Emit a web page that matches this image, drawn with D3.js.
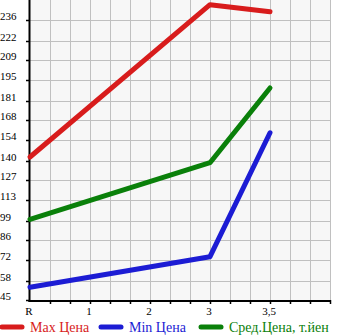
<!DOCTYPE html>
<html>
<head>
<meta charset="utf-8">
<script src="https://cdn.jsdelivr.net/npm/d3@7"></script>
<style>
  body { margin: 0; background: #fff; }
  svg { display: block; }
</style>
</head>
<body>
<div id="chart"></div>
<script>
// categories on the x axis (last slot is empty space)
var categories = ["R", "1", "2", "3", "3,5"]
var yTicks = [45, 58, 72, 86, 99, 113, 127, 140, 154, 168, 181, 195, 209, 222, 236]

// series: index into categories + value
var maxPrice = [[0, 142.7], [3, 246.8], [4, 242]]
var minPrice = [[0, 53.7], [3, 74.6], [4, 159.3]]
var avgPrice = [[0, 100.1], [3, 138.8], [4, 189.9]]

var seriesNames = ["Max Цена", "Min Цена", "Сред.Цена, т.йен"]
var seriesColors = ["#d81c1c", "#1c1cd4", "#0a800a"]

var W = 345, H = 335
var plot = {left: 30, right: 330, top: 0, bottom: 300}

var svg = d3.select("#chart").append("svg")
    .attr("width", W)
    .attr("height", H)

var x = d3.scaleLinear().domain([0, 5]).range([plot.left, plot.right])
var y = d3.scaleLinear().domain([45, 250]).range([plot.bottom, plot.top])

// plot background
svg.append("rect")
  .attr("x", plot.left).attr("y", plot.top)
  .attr("width", plot.right - plot.left)
  .attr("height", plot.bottom - plot.top)
  .attr("fill", "#f7f7f7")

// grid: vertical every third of a category, horizontal at each tick
var vGrid = d3.range(1, 16).map(function(i){ return i / 3 })
svg.append("g").selectAll("line")
  .data(vGrid).enter().append("line")
    .attr("x1", function(d){ return Math.round(x(d)) + 0.5 })
    .attr("x2", function(d){ return Math.round(x(d)) + 0.5 })
    .attr("y1", plot.top).attr("y2", plot.bottom)
    .attr("stroke", "#c0c0c0").attr("stroke-width", 1)
svg.append("g").selectAll("line")
  .data(yTicks.slice(1)).enter().append("line")
    .attr("x1", plot.left).attr("x2", plot.right)
    .attr("y1", function(d){ return Math.round(y(d)) + 0.5 })
    .attr("y2", function(d){ return Math.round(y(d)) + 0.5 })
    .attr("stroke", "#c0c0c0").attr("stroke-width", 1)

// y tick marks + labels (labels left aligned at x=0, sitting on the tick)
svg.append("g").selectAll("line")
  .data(yTicks).enter().append("line")
    .attr("x1", plot.left - 4).attr("x2", plot.left)
    .attr("y1", function(d){ return Math.round(y(d)) + 0.5 })
    .attr("y2", function(d){ return Math.round(y(d)) + 0.5 })
    .attr("stroke", "#000").attr("stroke-width", 1.5)
svg.append("g").selectAll("text")
  .data(yTicks).enter().append("text")
    .attr("x", 0)
    .attr("y", function(d){ return Math.round(y(d)) })
    .attr("font-family", "Liberation Serif, serif")
    .attr("font-size", 11)
    .text(function(d){ return d })

// x tick marks
svg.append("g").selectAll("line")
  .data(vGrid).enter().append("line")
    .attr("x1", function(d){ return Math.round(x(d)) + 0.5 })
    .attr("x2", function(d){ return Math.round(x(d)) + 0.5 })
    .attr("y1", plot.bottom).attr("y2", plot.bottom + 4)
    .attr("stroke", "#000").attr("stroke-width", 1.5)
svg.append("g").selectAll("text")
  .data(categories).enter().append("text")
    .attr("x", function(d, i){ return x(i) - 1 })
    .attr("y", 315)
    .attr("text-anchor", "middle")
    .attr("font-family", "Liberation Serif, serif")
    .attr("font-size", 11)
    .text(function(d){ return d })

// axes lines
svg.append("line")
  .attr("x1", plot.left - 0.5).attr("x2", plot.left - 0.5)
  .attr("y1", plot.top).attr("y2", plot.bottom + 2)
  .attr("stroke", "#000").attr("stroke-width", 2)
svg.append("line")
  .attr("x1", plot.left - 1.5).attr("x2", plot.right + 1)
  .attr("y1", plot.bottom + 1).attr("y2", plot.bottom + 1)
  .attr("stroke", "#000").attr("stroke-width", 2)

// series lines
var line = d3.line()
  .x(function(d){ return x(d[0]) })
  .y(function(d){ return y(d[1]) })

var allSeries = [maxPrice, minPrice, avgPrice]
svg.append("g").selectAll("path")
  .data(allSeries).enter().append("path")
    .attr("d", line)
    .attr("fill", "none")
    .attr("stroke", function(d, i){ return seriesColors[i] })
    .attr("stroke-width", 5)
    .attr("stroke-linecap", "round")
    .attr("stroke-linejoin", "round")

// legend
var legendX = [0, 99, 199]
var legend = svg.append("g").selectAll("g")
  .data(seriesNames).enter().append("g")
    .attr("transform", function(d, i){ return "translate(" + legendX[i] + ",327)" })
legend.append("line")
  .attr("x1", 2).attr("x2", 22)
  .attr("y1", 0).attr("y2", 0)
  .attr("stroke", function(d, i){ return seriesColors[i] })
  .attr("stroke-width", 5)
  .attr("stroke-linecap", "round")
legend.append("text")
  .attr("x", 30)
  .attr("y", 5)
  .attr("font-family", "Liberation Serif, serif")
  .attr("font-size", 14)
  .attr("fill", function(d, i){ return seriesColors[i] })
  .text(function(d){ return d })
</script>
</body>
</html>
